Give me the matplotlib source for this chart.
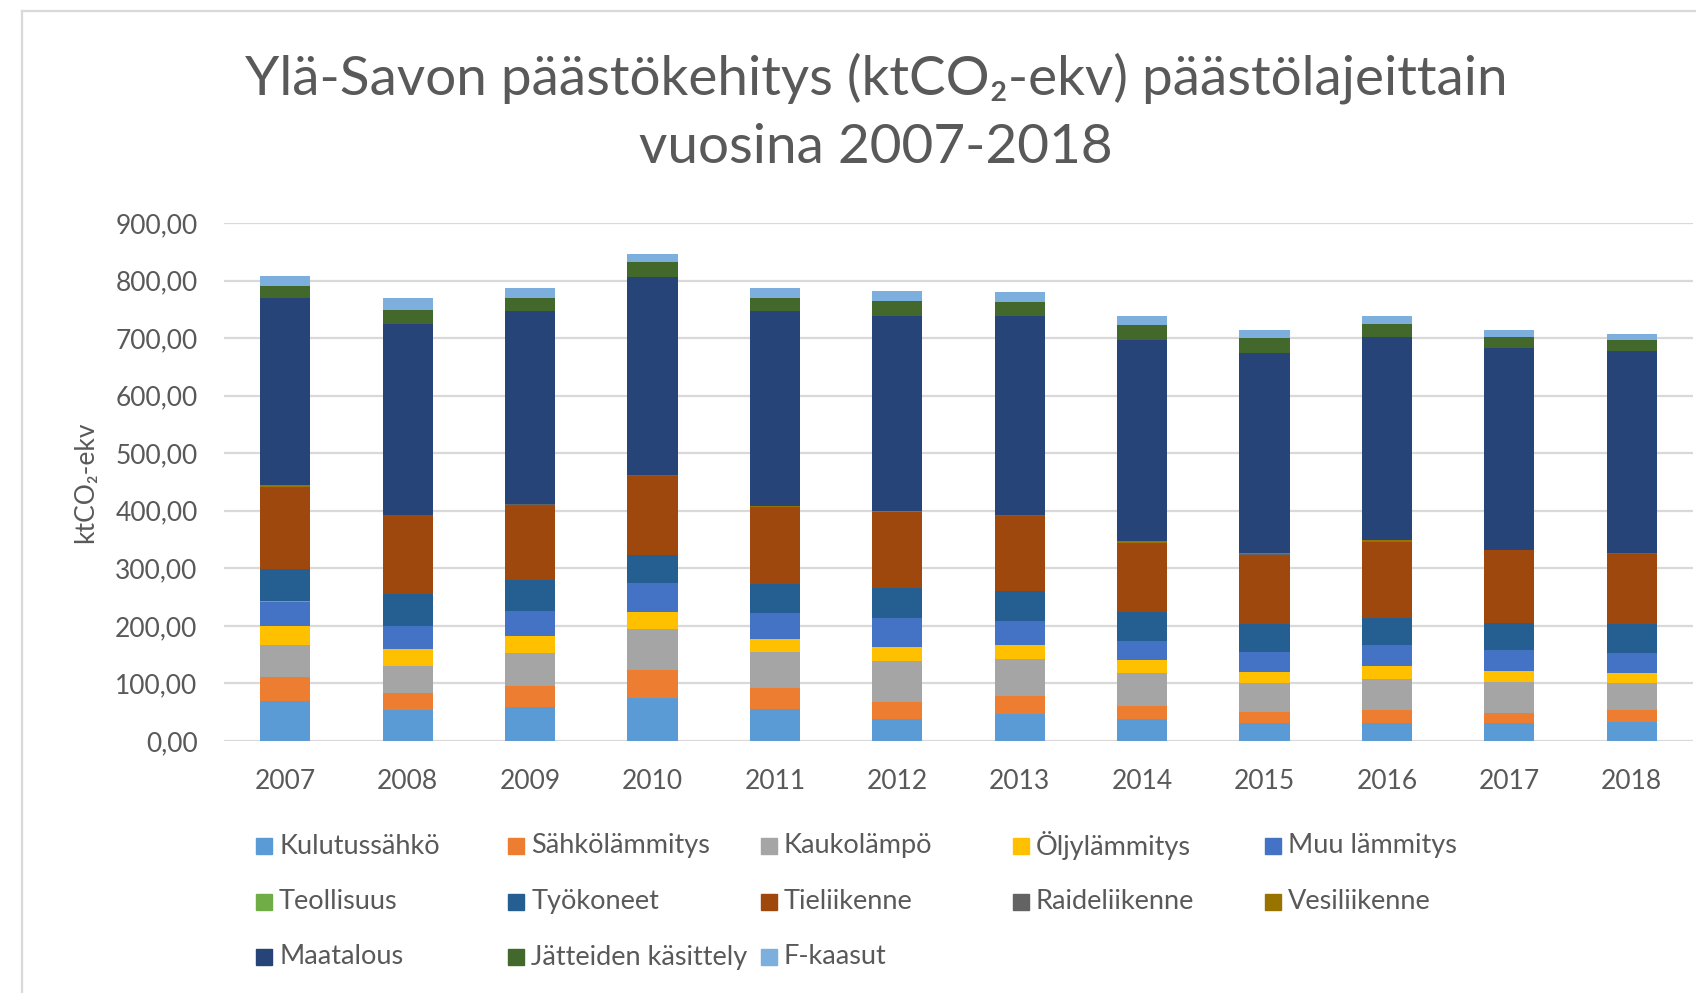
import numpy as np
import matplotlib
matplotlib.use("Agg")
import matplotlib.pyplot as plt
from matplotlib.patches import Rectangle
from matplotlib.lines import Line2D

plt.rcParams['font.family'] = ['Lato', 'DejaVu Sans']

years = ['2007', '2008', '2009', '2010', '2011', '2012', '2013',
         '2014', '2015', '2016', '2017', '2018']

# ktCO2-ekv per päästölaji, luettu kuvasta
kulutussahko = [70, 53, 59, 75, 56, 39, 47.5, 39, 31, 31, 31, 33.5]
sahkolammitys = [41, 31, 36.5, 48, 36.5, 28, 30.5, 22, 20, 22, 17, 19.5]
kaukolampo = [55, 47, 57, 71, 63, 72, 64, 58, 50, 55, 55, 47]
oljylammitys = [34, 28, 30, 31, 22.5, 25, 25, 22, 19, 22, 19, 19]
muu_lammitys = [41, 41, 44, 49, 44, 50, 41, 33, 34, 36.5, 36, 34]
teollisuus = [2, 0, 0, 0, 0, 0, 0, 0, 0, 0, 0, 0]
tyokoneet = [56, 55, 53, 50, 50, 52.5, 52.5, 50, 50, 47, 47, 50]
tieliikenne = [142, 137, 131, 137, 134, 131.5, 131, 120, 120, 132.5, 126, 122.5]
raideliikenne = [1, 0.5, 0.5, 0.5, 0.5, 0.5, 0.5, 0.5, 0.5, 0.5, 0.5, 1]
vesiliikenne = [2, 1, 1, 1, 1, 1, 1, 3, 2, 2, 1, 0.5]
maatalous = [325, 331.5, 334.5, 344.5, 339, 338.5, 345, 349.5, 348.5, 353.5, 350.5, 351]
jatteet = [21, 24, 24, 25, 24, 27, 25, 25, 25, 22.5, 19, 19]
f_kaasut = [18, 20, 17, 14, 17, 17, 17, 16, 14, 14, 11.5, 11]

series = [
    ('Kulutussähkö', kulutussahko, '#5B9BD5'),
    ('Sähkölämmitys', sahkolammitys, '#ED7D31'),
    ('Kaukolämpö', kaukolampo, '#A5A5A5'),
    ('Öljylämmitys', oljylammitys, '#FFC000'),
    ('Muu lämmitys', muu_lammitys, '#4472C4'),
    ('Teollisuus', teollisuus, '#70AD47'),
    ('Työkoneet', tyokoneet, '#255E91'),
    ('Tieliikenne', tieliikenne, '#9E480E'),
    ('Raideliikenne', raideliikenne, '#636363'),
    ('Vesiliikenne', vesiliikenne, '#997300'),
    ('Maatalous', maatalous, '#264478'),
    ('Jätteiden käsittely', jatteet, '#43682B'),
    ('F-kaasut', f_kaasut, '#7CAFDD'),
]

W, H = 1696, 993
text_col = '#595959'
fig = plt.figure(figsize=(W / 100, H / 100), dpi=100)
ax = fig.add_axes([224 / W, 1 - 741 / H, (1693 - 224) / W, (741 - 223) / H])

x = np.arange(len(years))
bottom = np.zeros(len(years))
for name, vals, col in series:
    vals = np.array(vals, dtype=float)
    ax.bar(x, vals, width=0.41, bottom=bottom, color=col, label=name, zorder=3)
    bottom += vals

ax.set_xlim(-0.5, len(years) - 0.5)
ax.set_ylim(0, 900)
ax.set_yticks(np.arange(0, 901, 100))
ax.set_yticklabels([f'{v:.2f}'.replace('.', ',') for v in np.arange(0, 901, 100)])
ax.set_xticks(x)
ax.set_xticklabels(years)
for s in ax.spines.values():
    s.set_visible(False)
ax.tick_params(axis='both', length=0, labelsize=19, colors=text_col)
ax.tick_params(axis='y', pad=19)
ax.tick_params(axis='x', pad=20)
ax.grid(axis='y', color='#d9d9d9', linewidth=1.6, zorder=0)
ax.set_axisbelow(True)
ax.set_ylabel('ktCO₂-ekv', fontsize=19, color=text_col, labelpad=12)

fig.text(876 / W, 1 - 52 / H,
         'Ylä-Savon päästökehitys (ktCO₂-ekv) päästölajeittain\nvuosina 2007-2018',
         ha='center', va='top', fontsize=39.5, color=text_col, linespacing=1.47)

# manuaalinen selite, 5 saraketta
for i, (name, vals, col) in enumerate(series):
    c, r = i % 5, i // 5
    x0 = 256 + 252.3 * c
    yc = 846 + 55.5 * r
    fig.add_artist(Rectangle((x0 / W, 1 - (yc + 8) / H), 16 / W, 16 / H,
                             transform=fig.transFigure, color=col))
    fig.text((x0 + 23) / W, 1 - yc / H, name, ha='left', va='center',
             fontsize=19.5, color=text_col)

# kaavion kehys
fig.add_artist(Line2D([22 / W, 22 / W], [1 - 11 / H, 0], transform=fig.transFigure,
                      color='#d9d9d9', linewidth=1.6))
fig.add_artist(Line2D([22 / W, 1], [1 - 11 / H, 1 - 11 / H], transform=fig.transFigure,
                      color='#d9d9d9', linewidth=1.6))

fig.savefig('out.png', dpi=100, facecolor='white')
